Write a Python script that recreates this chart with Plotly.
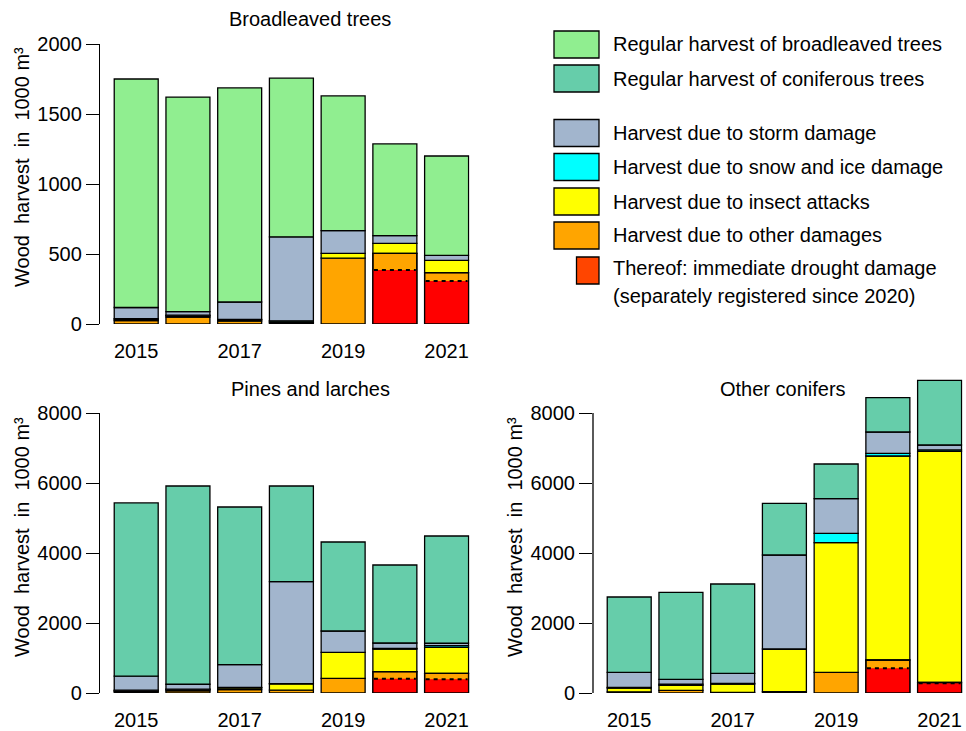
import plotly.graph_objects as go

# ---------------- data (1000 m³) ----------------
years = [2015, 2016, 2017, 2018, 2019, 2020, 2021]
tick_years = [2015, 2017, 2019, 2021]

# Broadleaved trees
bl_other = [25, 50, 20, 10, 470, 505, 367]
bl_drought = [None, None, None, None, None, 386, 307]
bl_insect = [10, 10, 10, 10, 35, 71, 88]
bl_snow = [3, 3, 3, 3, 0, 0, 0]
bl_storm = [80, 25, 124, 600, 162, 55, 35]
bl_regular = [1632, 1533, 1529, 1133, 962, 655, 710]

# Pines and larches
pl_other = [40, 60, 100, 80, 420, 609, 562]
pl_drought = [None, None, None, None, None, 410, 391]
pl_insect = [30, 40, 50, 180, 743, 648, 743]
pl_snow = [10, 10, 10, 6, 0, 19, 50]
pl_storm = [400, 140, 650, 2914, 608, 152, 67]
pl_regular = [4950, 5664, 4504, 2734, 2543, 2229, 3064]

# Other conifers
oc_other = [35, 77, 20, 40, 591, 943, 300]
oc_drought = [None, None, None, None, None, 705, 280]
oc_insect = [105, 143, 237, 1217, 3703, 5828, 6606]
oc_snow = [20, 30, 20, 0, 269, 77, 40]
oc_storm = [430, 140, 285, 2686, 988, 609, 140]
oc_regular = [2153, 2487, 2552, 1477, 992, 980, 1848]

legend_labels = [
    "Regular harvest of broadleaved trees",
    "Regular harvest of coniferous trees",
    "Harvest due to storm damage",
    "Harvest due to snow and ice damage",
    "Harvest due to insect attacks",
    "Harvest due to other damages",
]
drought_label = ["Thereof: immediate drought damage",
                 "(separately registered since 2020)"]

# ---------------- styles ----------------
C_BROAD = "#90EE90"
C_CONIF = "#66CDAA"
C_STORM = "#A2B5CD"
C_SNOW = "#00FFFF"
C_INSECT = "#FFFF00"
C_OTHER = "#FFA500"
C_DROUGHT = "#FF0000"
C_DROUGHT_LEG = "#FF4500"
LW = 1.3
BW = 0.85
FONT = "Liberation Sans, Arial, Helvetica, sans-serif"
W, H = 966, 731


def fx(p):
    return p / W


def fy(p):
    return 1 - p / H


fig = go.Figure()


def add_panel(xa, ya, other, drought, insect, snow, storm, regular, reg_color):
    segs = [(other, C_OTHER), (insect, C_INSECT), (snow, C_SNOW),
            (storm, C_STORM), (regular, reg_color)]
    base = [0] * len(years)
    for vals, col in segs:
        fig.add_trace(go.Bar(
            x=years, y=vals, base=list(base), width=BW,
            marker=dict(color=col, line=dict(color="black", width=LW)),
            xaxis=xa, yaxis=ya, showlegend=False, hoverinfo="skip"))
        base = [b + v for b, v in zip(base, vals)]
    # drought part of "other damages"
    fig.add_trace(go.Bar(
        x=years, y=drought, base=[0] * len(years), width=BW,
        marker=dict(color=C_DROUGHT, line=dict(width=0)),
        xaxis=xa, yaxis=ya, showlegend=False, hoverinfo="skip"))
    outline = [o if d is not None else None for o, d in zip(other, drought)]
    fig.add_trace(go.Bar(
        x=years, y=outline, base=[0] * len(years), width=BW,
        marker=dict(color="rgba(0,0,0,0)", line=dict(color="black", width=LW)),
        xaxis=xa, yaxis=ya, showlegend=False, hoverinfo="skip"))
    lx, ly = [], []
    for yr, d in zip(years, drought):
        if d is not None:
            lx += [yr - BW / 2 + 0.02, yr + BW / 2 - 0.02, None]
            ly += [d, d, None]
    fig.add_trace(go.Scatter(
        x=lx, y=ly, mode="lines",
        line=dict(color="black", width=2, dash="4px,4px"),
        xaxis=xa, yaxis=ya, showlegend=False, hoverinfo="skip"))


add_panel("x", "y", bl_other, bl_drought, bl_insect, bl_snow, bl_storm, bl_regular, C_BROAD)
add_panel("x2", "y2", pl_other, pl_drought, pl_insect, pl_snow, pl_storm, pl_regular, C_CONIF)
add_panel("x3", "y3", oc_other, oc_drought, oc_insect, oc_snow, oc_storm, oc_regular, C_CONIF)

XR = [2014.30, 2021.445]
span_px = (XR[1] - XR[0]) * 51.73


def xaxis(left_px, anchor):
    return dict(domain=[fx(left_px), fx(left_px + span_px)], anchor=anchor,
                range=XR, tickvals=tick_years, ticktext=[str(t) for t in tick_years],
                showgrid=False, zeroline=False, showline=False, automargin=False,
                ticks="outside", ticklen=9, tickcolor="rgba(0,0,0,0)",
                tickfont=dict(size=20, color="black"), fixedrange=True)


def yaxis(top_px, bot_px, rng, tickvals, anchor, showline=True):
    return dict(domain=[fy(bot_px), fy(top_px)], anchor=anchor, range=rng,
                tickvals=tickvals, showgrid=False, zeroline=False, automargin=False,
                showline=showline, linecolor="black", linewidth=LW,
                ticks="outside", ticklen=13, tickwidth=LW, tickcolor="black",
                tickfont=dict(size=20, color="black"), fixedrange=True)


px_per_unit_c = 280 / 8000
oc_top_px = 693 - 9100 * px_per_unit_c

fig.update_layout(
    width=W, height=H, margin=dict(l=0, r=0, t=0, b=0, pad=0, autoexpand=False),
    paper_bgcolor="white", plot_bgcolor="white",
    font=dict(family=FONT, size=20, color="black"),
    barmode="overlay", showlegend=False,
    xaxis=xaxis(100, "y"),
    yaxis=yaxis(44, 324, [0, 2000], [0, 500, 1000, 1500, 2000], "x"),
    xaxis2=xaxis(100, "y2"),
    yaxis2=yaxis(413, 693, [0, 8000], [0, 2000, 4000, 6000, 8000], "x2"),
    xaxis3=xaxis(593, "y3"),
    yaxis3=yaxis(oc_top_px, 693, [0, 9100], [0, 2000, 4000, 6000, 8000], "x3",
                 showline=False),
)

shapes = []
# y-axis line for the third panel (only up to 8000)
shapes.append(dict(type="line", xref="x3 domain", yref="y3", x0=0, x1=0,
                   y0=0, y1=8000, line=dict(color="black", width=LW)))

annotations = []
# panel titles
for text, cx, cy in [("Broadleaved trees", 309.5, 19),
                     ("Pines and larches", 310, 389),
                     ("Other conifers", 783, 389)]:
    annotations.append(dict(text=text, x=fx(cx), y=fy(cy), xref="paper", yref="paper",
                            xanchor="center", yanchor="middle", showarrow=False,
                            font=dict(size=20)))
# y titles
ytitle = "Wood\u00a0 harvest\u00a0 in\u00a0 1000 m³"
for cx, cy in [(22, 167), (22, 537), (515, 537)]:
    annotations.append(dict(text=ytitle, x=fx(cx), y=fy(cy), xref="paper", yref="paper",
                            xanchor="center", yanchor="middle", showarrow=False,
                            textangle=-90, font=dict(size=20)))

# custom legend
leg_colors = [C_BROAD, C_CONIF, C_STORM, C_SNOW, C_INSECT, C_OTHER]
leg_tops = [31, 65, 119.5, 153.5, 188, 222]
for lab, col, top in zip(legend_labels, leg_colors, leg_tops):
    shapes.append(dict(type="rect", xref="paper", yref="paper",
                       x0=fx(554), x1=fx(599), y0=fy(top + 27), y1=fy(top),
                       fillcolor=col, line=dict(color="black", width=LW)))
    annotations.append(dict(text=lab, x=fx(611), y=fy(top + 13.5), xref="paper",
                            yref="paper", xanchor="left", yanchor="middle",
                            showarrow=False, font=dict(size=20)))
shapes.append(dict(type="rect", xref="paper", yref="paper",
                   x0=fx(576.5), x1=fx(599), y0=fy(284), y1=fy(257),
                   fillcolor=C_DROUGHT_LEG, line=dict(color="black", width=LW)))
annotations.append(dict(text=drought_label[0], x=fx(611), y=fy(268.5), xref="paper",
                        yref="paper", xanchor="left", yanchor="middle",
                        showarrow=False, font=dict(size=20)))
annotations.append(dict(text=drought_label[1], x=fx(611), y=fy(296), xref="paper",
                        yref="paper", xanchor="left", yanchor="middle",
                        showarrow=False, font=dict(size=20)))

fig.update_layout(shapes=shapes, annotations=annotations)

fig.write_html("out.html", config={"displayModeBar": False},
               post_script="document.body.style.margin='0';")
